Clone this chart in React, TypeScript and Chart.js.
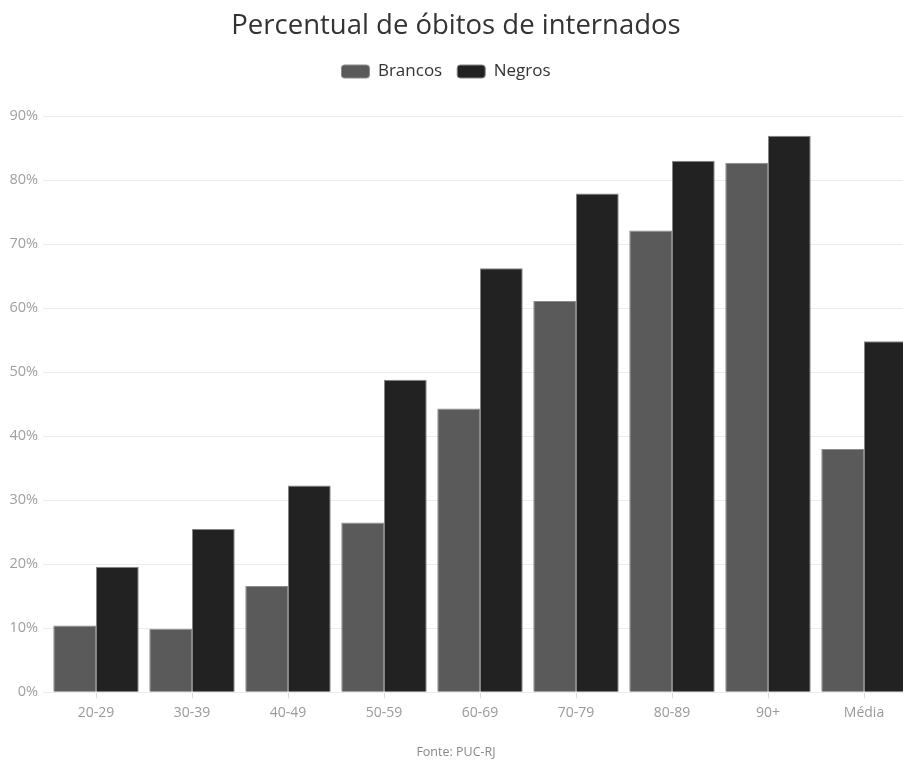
import React, { useEffect, useRef } from "react";
import { Chart, registerables } from "chart.js";

Chart.register(...registerables);

// Faixas etárias e média
const categories = ["20-29", "30-39", "40-49", "50-59", "60-69", "70-79", "80-89", "90+", "Média"];
// Percentual de óbitos entre internados, por cor/raça
const brancos = [10.4, 9.9, 16.6, 26.5, 44.3, 61.1, 72.1, 82.7, 38.0];
const negros = [19.6, 25.5, 32.3, 48.8, 66.2, 77.9, 83.0, 86.9, 54.8];
const seriesLabels = ["Brancos", "Negros"];
const yMax = 90;
const yStep = 10;

const FONT = "'Open Sans', 'Noto Sans', sans-serif";

// Leaves room between the legend and the plot area, and nudges the legend left
const legendGap = {
  id: "legendGap",
  beforeInit(chart: any) {
    const legend = chart.legend;
    if (!legend) return;
    const fit = legend.fit;
    legend.fit = function () {
      fit.call(this);
      this.height += 26;
    };
  },
  afterUpdate(chart: any) {
    const legend = chart.legend;
    if (!legend) return;
    legend.left -= 10;
    legend.right -= 10;
  },
};

export default function App() {
  const canvasRef = useRef<HTMLCanvasElement | null>(null);

  useEffect(() => {
    const canvas = canvasRef.current;
    if (!canvas) return;
    const chart = new Chart(canvas, {
      type: "bar",
      data: {
        labels: categories,
        datasets: [
          {
            label: seriesLabels[0],
            data: brancos,
            backgroundColor: "#5a5a5a",
            borderColor: "#8c8c8c",
            borderWidth: 1,
            categoryPercentage: 0.89,
            barPercentage: 1.0,
          },
          {
            label: seriesLabels[1],
            data: negros,
            backgroundColor: "#222222",
            borderColor: "#858585",
            borderWidth: 1,
            categoryPercentage: 0.89,
            barPercentage: 1.0,
          },
        ],
      },
      options: {
        responsive: false,
        animation: false,
        layout: { padding: { top: 0, left: 0, right: 0, bottom: 0 } },
        plugins: {
          title: {
            display: true,
            text: "Percentual de óbitos de internados",
            color: "#333333",
            font: { family: FONT, size: 27.5, weight: "normal" },
            padding: { top: 10, bottom: 5 },
          },
          legend: {
            display: true,
            position: "top",
            labels: {
              color: "#333333",
              font: { family: FONT, size: 17 },
              boxWidth: 28,
              boxHeight: 13,
              padding: 15,
              useBorderRadius: true,
              borderRadius: 3,
            },
          },
          subtitle: {
            display: true,
            position: "bottom",
            text: "Fonte: PUC-RJ",
            color: "#888888",
            font: { family: FONT, size: 12.5, weight: "normal" },
            padding: { top: 18, bottom: 0 },
          },
          tooltip: { enabled: false },
        },
        scales: {
          x: {
            offset: true,
            grid: {
              display: true,
              offset: false,
              drawOnChartArea: false,
              drawTicks: true,
              tickLength: 6,
              color: "#dddddd",
            },
            border: { display: false },
            ticks: {
              color: "#999999",
              font: { family: FONT, size: 14 },
              padding: 6,
              maxRotation: 0,
            },
          },
          y: {
            min: 0,
            max: yMax,
            grid: {
              color: "#ebebeb",
              lineWidth: 1,
              drawTicks: true,
              tickLength: 5,
            },
            border: { display: false },
            ticks: {
              stepSize: yStep,
              color: "#a0a0a0",
              font: { family: FONT, size: 14.5 },
              padding: 5,
              callback: (v: any) => `${v}%`,
            },
            afterFit(scale: any) {
              scale.width = 48;
            },
          },
        },
      },
      plugins: [legendGap],
    });
    return () => chart.destroy();
  }, []);

  return (
    <div
      style={{
        position: "fixed",
        left: 0,
        top: 0,
        width: 903,
        height: 760,
        overflow: "hidden",
        background: "#ffffff",
      }}
    >
      <canvas ref={canvasRef} width={912} height={760} style={{ display: "block" }} />
    </div>
  );
}
